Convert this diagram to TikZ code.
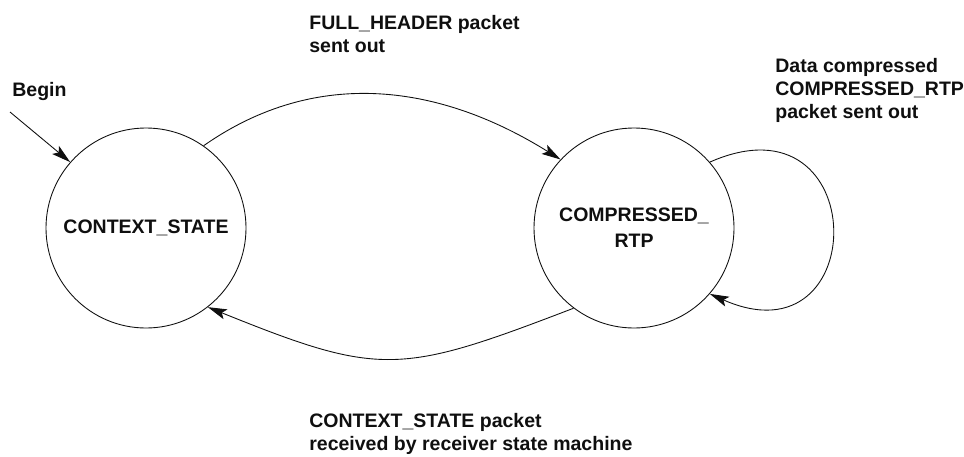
\documentclass[tikz,border=0pt]{standalone}
\usepackage{fontspec}
\setmainfont{Liberation Sans}
\usepackage{tikz}
\usetikzlibrary{arrows.meta}
\definecolor{smInk}{RGB}{15,15,15}
\newcommand{\smfont}{\fontsize{11.1}{13.1}\selectfont\bfseries}

\begin{document}
\begin{tikzpicture}[x=0.2mm, y=0.2mm,
  state/.style={draw=smInk, line width=0.5pt, circle, minimum size=40mm,
    inner sep=0pt, align=center, font=\smfont, text=smInk},
  trans/.style={draw=smInk, line width=0.5pt,
    -{Stealth[length=3.8mm, width=2.1mm, inset=0.8mm]}},
  note/.style={anchor=north west, inner sep=0pt, align=left,
    font=\smfont, text=smInk}]
  \useasboundingbox (0,0) rectangle (964,456);

  % States
  \node[state] (ctx) at (146,228) {CONTEXT\_STATE};
  \node[state] (crtp) at (634,228) {COMPRESSED\_\\[1.6pt]RTP};

  % Entry
  \coordinate (start) at (10,344);
  \node[note] (begin) at (12,374) {Begin};
  \draw[trans] (start) -- (ctx.139);

  % Transitions
  \draw[trans] (ctx.55) to[out=35, in=148] (crtp.137);
  \draw[trans] (crtp.233) to[out=201, in=338, looseness=1.3] (ctx.308);
  \draw[trans] (crtp.41) .. controls +(163,72) and +(163,-72) .. (crtp.-41);

  % Labels
  \node[note] (fullhdr) at (309,441) {FULL\_HEADER packet\\sent out};
  \node[note] (datacomp) at (775,398) {Data compressed\\COMPRESSED\_RTP\\packet sent out};
  \node[note] (ctxpkt) at (309,43) {CONTEXT\_STATE packet\\received by receiver state machine};
\end{tikzpicture}
\end{document}
